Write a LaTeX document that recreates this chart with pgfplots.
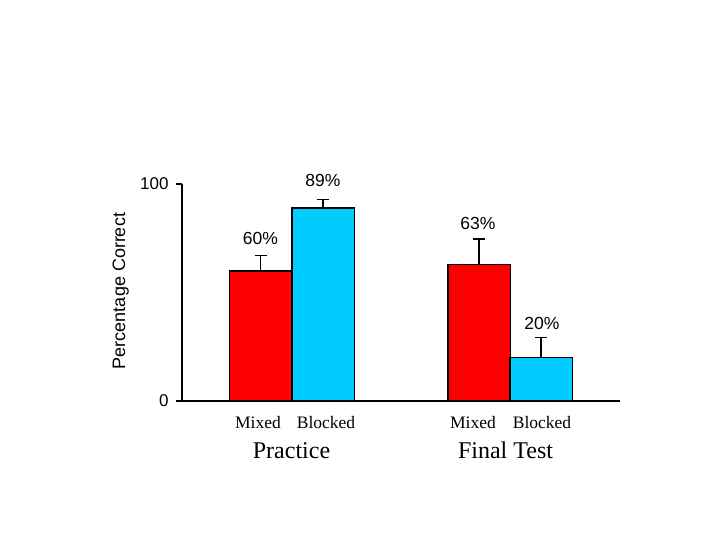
\documentclass[border=0pt]{standalone}
\usepackage{pgfplots}
\pgfplotsset{compat=1.18}
\usepackage{fontspec}
\setmainfont{Liberation Sans}
\newfontfamily\timesfont{Liberation Serif}
\definecolor{barred}{RGB}{255,0,0}
\definecolor{barblue}{RGB}{0,204,255}
\begin{document}
\begin{tikzpicture}[x=1pt,y=1pt]
\path[use as bounding box] (0,0) rectangle (720,540);
\begin{axis}[
  at={(182pt,139pt)}, anchor=south west,
  scale only axis, width=438pt, height=217pt,
  xmin=0, xmax=438, ymin=0, ymax=100,
  axis x line=bottom, axis y line=left,
  axis line style={-, line width=1.2pt, black},
  xtick=\empty, ytick={0,100}, yticklabels={0\hspace{5pt},100},
  tick align=outside, major tick length=6pt,
  tick style={line width=1.2pt, black},
  yticklabel style={font=\fontsize{17}{20}\selectfont, xshift=-4pt},
  /pgf/number format/assume math mode=true,
  clip=false,
]
\addplot[ybar, bar shift=0pt, bar width=62.5, fill=barred, draw=black, line width=1.5pt,
  error bars/.cd, y dir=plus, y explicit,
  error bar style={line width=1.4pt, black},
  error mark options={rotate=90, line width=1.4pt, black, mark size=6pt}]
  coordinates {(78.5,60) +- (0,7) (297,63) +- (0,11.7)};
\addplot[ybar, bar shift=0pt, bar width=62.5, fill=barblue, draw=black, line width=1.5pt,
  error bars/.cd, y dir=plus, y explicit,
  error bar style={line width=1.4pt, black},
  error mark options={rotate=90, line width=1.4pt, black, mark size=6pt}]
  coordinates {(141,89) +- (0,3.8) (359,20) +- (0,9.2)};
\node[font=\fontsize{17.5}{20}\selectfont] at (axis cs:78.5,74.7) {60\%};
\node[font=\fontsize{17.5}{20}\selectfont] at (axis cs:141,101.5) {89\%};
\node[font=\fontsize{17.5}{20}\selectfont] at (axis cs:296,81.6) {63\%};
\node[font=\fontsize{17.5}{20}\selectfont] at (axis cs:360,35.5) {20\%};
\end{axis}
\node[rotate=90, font=\fontsize{18}{21}\selectfont, inner sep=0pt] at (120.7,249) {Percentage Correct};
\begin{scope}[every node/.style={font=\timesfont\fontsize{17.5}{20}\selectfont, inner sep=0pt}]
\node at (258,117.5) {Mixed};
\node at (326,117.5) {Blocked};
\node at (473,117.5) {Mixed};
\node at (542,117.5) {Blocked};
\end{scope}
\node[font=\timesfont\fontsize{24}{28}\selectfont, inner sep=0pt] at (291.5,89) {Practice};
\node[font=\timesfont\fontsize{24}{28}\selectfont, inner sep=0pt] at (505.5,90) {Final Test};
\end{tikzpicture}
\end{document}
